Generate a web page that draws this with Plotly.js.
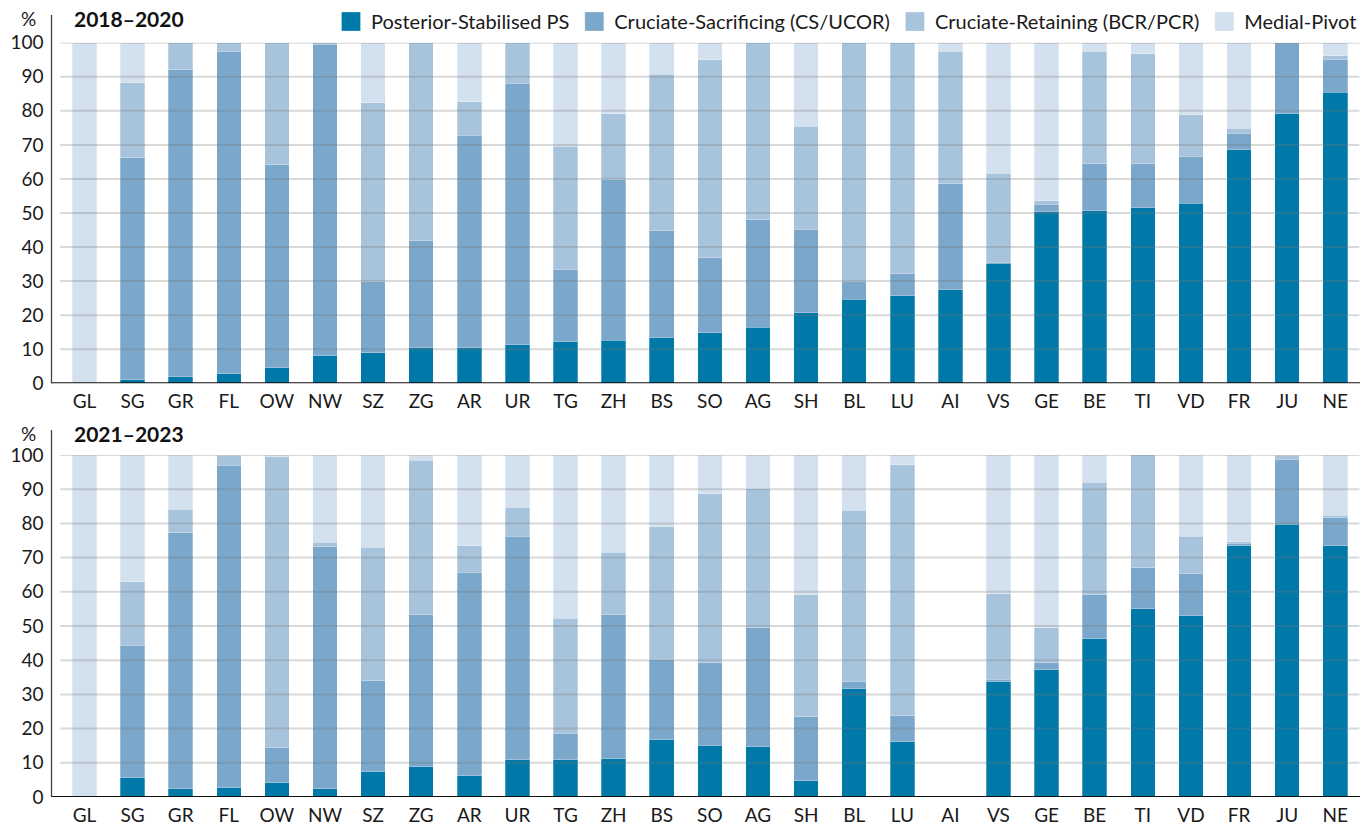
<!DOCTYPE html>
<html>
<head>
<meta charset="utf-8">
<script src="https://cdn.plot.ly/plotly-3.0.1.min.js"></script>
<style>html,body{margin:0;padding:0;background:#fff;}#chart{width:1363px;height:825px;}</style>
</head>
<body>
<div id="chart"></div>
<script>
// Categories (Swiss cantons)
const cantons = ["GL","SG","GR","FL","OW","NW","SZ","ZG","AR","UR","TG","ZH","BS","SO","AG","SH","BL","LU","AI","VS","GE","BE","TI","VD","FR","JU","NE"];

// Series names
const seriesNames = ["Posterior-Stabilised PS","Cruciate-Sacrificing (CS/UCOR)","Cruciate-Retaining (BCR/PCR)","Medial-Pivot"];

// 2018–2020 (%)
const ps2018 = [0,1.0,1.9,2.8,4.6,8.1,9.0,10.5,10.5,11.3,12.2,12.6,13.4,14.8,16.5,20.7,24.7,25.7,27.5,35.2,50.4,50.7,51.5,52.9,68.5,79.2,85.5];
const cs2018 = [0,65.2,90.1,94.7,59.6,91.5,20.8,31.4,62.4,76.8,21.3,47.1,31.4,22.1,31.5,24.6,5.3,6.4,31.1,0.3,2.2,13.8,13.0,13.8,4.9,20.8,9.7];
const cr2018 = [0,22.1,8.0,2.5,35.8,0.4,52.6,58.1,9.8,11.9,36.1,19.5,45.9,58.1,52.0,30.2,70.0,67.9,38.9,26.2,1.0,33.0,32.3,12.1,1.5,0,0.9];
const mp2018 = [100,11.7,0,0,0,0,17.6,0,17.3,0,30.4,20.8,9.3,5.0,0,24.5,0,0,2.5,38.3,46.4,2.5,3.2,21.2,25.1,0,3.9];

// 2021–2023 (%)
const ps2021 = [0,5.7,2.4,2.7,4.2,2.4,7.4,8.8,6.2,10.9,10.9,11.2,16.8,15.0,14.7,4.8,31.7,16.2,0,33.7,37.2,46.3,55.1,53.0,73.5,79.8,73.5];
const cs2021 = [0,38.7,74.8,94.3,10.2,70.8,26.6,44.5,59.5,65.4,7.8,42.1,23.4,24.3,34.8,18.7,2.2,7.5,0,0.8,2.0,12.9,12.0,12.3,0.7,19.0,8.1];
const cr2021 = [0,18.5,7.0,3.0,85.1,1.3,39.1,45.1,7.7,8.4,33.6,18.3,38.8,49.3,40.6,35.6,50.0,73.4,0,24.9,10.3,32.9,33.1,11.0,0.4,1.2,0.8];
const mp2021 = [100,37.1,15.8,0,0.5,25.5,26.9,1.6,26.6,15.3,47.7,28.4,21.0,11.4,9.9,40.9,16.1,2.9,0,40.6,50.5,7.9,0,23.7,25.4,0,17.6];

// Axis ticks
const yTicks = [0,10,20,30,40,50,60,70,80,90,100];
const panelTitles = ["2018–2020","2021–2023"];

const colors = ["#0079a8","#7ba7cb","#a8c4dd","#d3e1ee"];
const W = 1363, H = 825;
const px = v => v / W;
const py = v => 1 - v / H;

const sets = [[ps2018,cs2018,cr2018,mp2018],[ps2021,cs2021,cr2021,mp2021]];
const traces = [];
sets.forEach((set, p) => {
  set.forEach((vals, i) => {
    traces.push({
      type: "bar",
      x: cantons,
      y: vals,
      name: seriesNames[i],
      legendgroup: "s" + i,
      showlegend: p === 0,
      xaxis: p === 0 ? "x" : "x2",
      yaxis: p === 0 ? "y" : "y2",
      marker: {color: colors[i], line: {color: "rgba(255,255,255,0.45)", width: 0.6}},
      hoverinfo: "x+y+name"
    });
  });
});

const fontFam = "Lato, 'Open Sans', sans-serif";
const xDom = [px(60.4), px(1359.3)];
const axX = (anchor) => ({
  domain: xDom, anchor: anchor, type: "category",
  range: [-0.5, cantons.length - 0.5],
  showgrid: false, zeroline: false, showline: false,
  ticks: "outside", ticklen: 1, tickcolor: "rgba(0,0,0,0)",
  tickfont: {family: fontFam, size: 19, color: "#1a1a1a"},
  fixedrange: true
});
const axY = (dom, anchor) => ({
  domain: dom, anchor: anchor, range: [0, 100],
  tickvals: yTicks, ticktext: yTicks.map(String),
  showgrid: false, zeroline: false, showline: false,
  ticks: "outside", ticklen: 12, tickcolor: "rgba(0,0,0,0)",
  tickfont: {family: fontFam, size: 19, color: "#1a1a1a"},
  fixedrange: true
});

const shapes = [];
const annotations = [];
const panels = [
  {xa: "x", ya: "y", base: 383.3, top: 15, labelY: 18},
  {xa: "x2", ya: "y2", base: 797, top: 430, labelY: 433}
];
panels.forEach((pn, p) => {
  yTicks.filter(t => t > 0).forEach(t => {
    shapes.push({type: "line", layer: "above", xref: pn.xa + " domain", yref: pn.ya,
      x0: 0, x1: 1, y0: t, y1: t,
      line: {color: "rgba(120,120,120,0.28)", width: 2}});
  });
  // baseline
  shapes.push({type: "line", layer: "above", xref: "paper", yref: pn.ya,
    x0: px(51), x1: px(1360), y0: 0, y1: 0, line: {color: "#111", width: 2}});
  // vertical axis line
  shapes.push({type: "line", layer: "above", xref: "paper", yref: "paper",
    x0: px(51.5), x1: px(51.5), y0: py(pn.base), y1: py(pn.top), line: {color: "#444", width: 1.3}});
  annotations.push({xref: "paper", yref: "paper", x: px(28), y: py(pn.labelY),
    xanchor: "center", yanchor: "middle", showarrow: false, text: "%",
    font: {family: fontFam, size: 19, color: "#1a1a1a"}});
  annotations.push({xref: "paper", yref: "paper", x: px(72), y: py(pn.labelY),
    xanchor: "left", yanchor: "middle", showarrow: false, text: "<b>" + panelTitles[p] + "</b>",
    font: {family: fontFam, size: 21, color: "#111"}});
});

const layout = {
  width: W, height: H,
  margin: {l: 0, r: 0, t: 0, b: 0},
  paper_bgcolor: "#fff", plot_bgcolor: "#fff",
  barmode: "stack", bargap: 0.49,
  font: {family: fontFam, size: 19, color: "#1a1a1a"},
  xaxis: axX("y"),
  yaxis: axY([py(383.3), py(42.7)], "x"),
  xaxis2: axX("y2"),
  yaxis2: axY([py(797), py(455)], "x2"),
  showlegend: true,
  legend: {orientation: "h", x: px(1362), xanchor: "right", y: py(2), yanchor: "top",
    traceorder: "normal", font: {family: fontFam, size: 20, color: "#1a1a1a"},
    bgcolor: "rgba(0,0,0,0)", itemclick: false, itemdoubleclick: false},
  shapes: shapes,
  annotations: annotations
};

Plotly.newPlot("chart", traces, layout, {displayModeBar: false, staticPlot: true}).then(gd => {
  // enlarge legend swatches to match the reference's square keys
  gd.querySelectorAll(".legend .legendpoints path").forEach(p => {
    p.setAttribute("d", "M9.5,9.5H-9.5V-9.5H9.5Z");
  });
});
</script>
</body>
</html>
